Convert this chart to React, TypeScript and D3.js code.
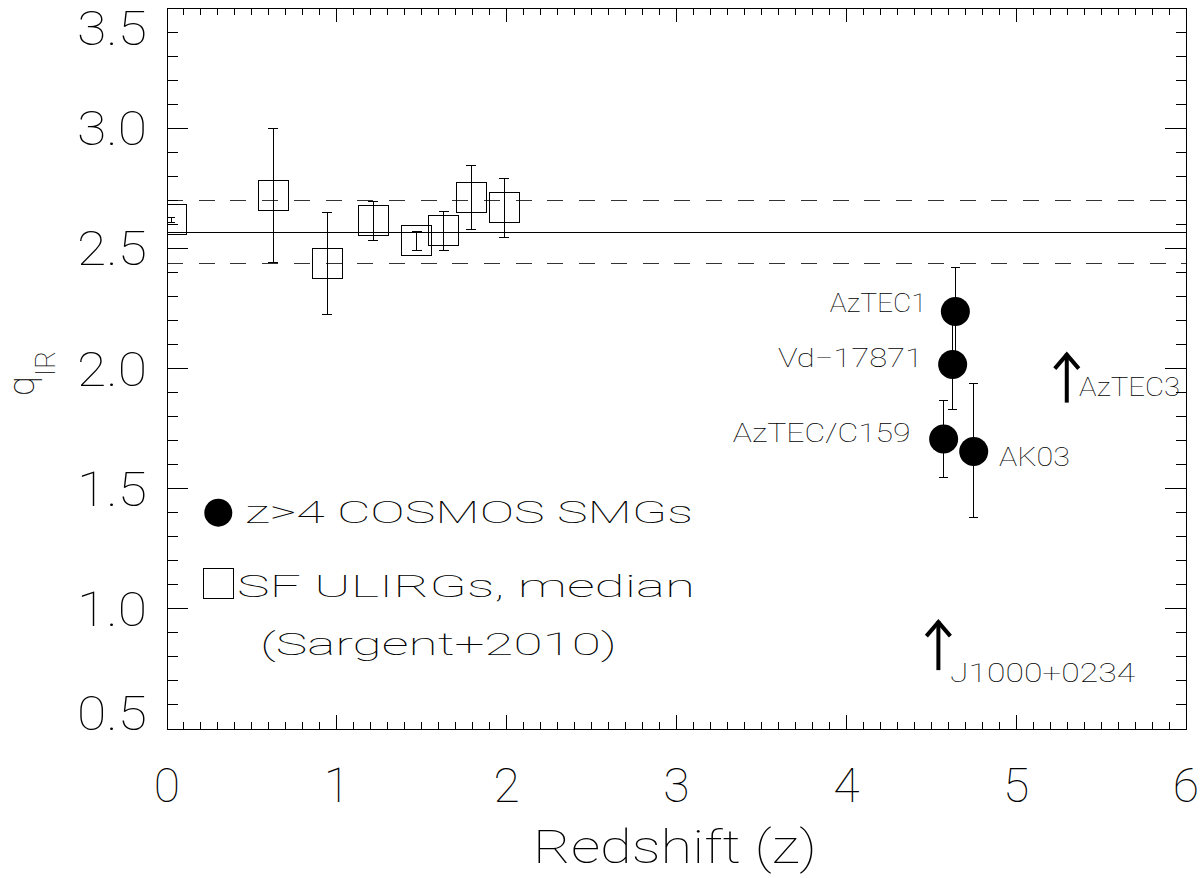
import React from "react";
import * as d3 from "d3";

// ---- data ----
const sfZ = [0.025, 0.626, 0.944, 1.215, 1.47, 1.631, 1.79, 1.986];
const sfQ = [2.62, 2.72, 2.436, 2.615, 2.532, 2.574, 2.712, 2.67];
const sfQLo = [2.608, 2.439, 2.224, 2.532, 2.493, 2.493, 2.58, 2.547];
const sfQHi = [2.629, 3.0, 2.649, 2.696, 2.569, 2.653, 2.845, 2.789];

const smgNames = ["AzTEC1", "Vd\u221217871", "AzTEC/C159", "AK03"];
const smgZ = [4.642, 4.626, 4.573, 4.75];
const smgQ = [2.2375, 2.017, 1.707, 1.655];
const smgQLo = [2.057, 1.828, 1.546, 1.378];
const smgQHi = [2.42, 2.206, 1.865, 1.936];

const limNames = ["AzTEC3", "J1000+0234"];
const limZ = [5.298, 4.542];
const limQ = [1.858, 0.745];

const qMean = 2.567;
const qUpper = 2.697;
const qLower = 2.437;

const xTickLabels = ["0", "1", "2", "3", "4", "5", "6"];
const yTickLabels = ["0.5", "1.0", "1.5", "2.0", "2.5", "3.0", "3.5"];

const legendItems = ["z>4 COSMOS SMGs", "SF ULIRGs, median", "(Sargent+2010)"];

// ---- layout (styling only) ----
const W = 1200, H = 878;
const L = 167, R = 1186, T = 8, B = 729;
const FONT = "Roboto, 'DejaVu Sans', sans-serif";
const FW = 100;
const LA = "spacingAndGlyphs";

// label placement relative to points (px): [dx, dy, anchor, textLength]
const smgLabelPos: [number, number, string, number][] = [
  [-28.6, 0.7, "end", 97],
  [-29.7, 2.7, "end", 145],
  [-33, 3.4, "end", 178],
  [25.3, 14.3, "start", 71],
];
const limLabelPos: [number, number, number][] = [
  [12.3, -7, 101],
  [11.7, 11.7, 185],
];

export default function App() {
  const x = d3.scaleLinear().domain([0, 6]).range([L, R]);
  const y = d3.scaleLinear().domain([0.5, 3.5]).range([B, T]);

  const xMinor = d3.range(0, 60.5, 1).map((v) => v / 10);
  const yMinor = d3.range(5, 35.5, 1).map((v) => v / 10);
  const isMajX = (v: number) => Math.abs(v - Math.round(v)) < 1e-6;
  const isMajY = (v: number) => Math.abs(v * 2 - Math.round(v * 2)) < 1e-6;

  const xTicks = xTickLabels.map((t) => +t);
  const yTicks = yTickLabels.map((t) => +t);

  const ln = (k: string, x1: number, y1: number, x2: number, y2: number, extra: any = {}) => (
    <line key={k} x1={x1} y1={y1} x2={x2} y2={y2} stroke="#000" strokeWidth={1} shapeRendering="crispEdges" {...extra} />
  );

  const errBar = (k: string, cx: number, lo: number, hi: number, cap: number) => (
    <g key={k}>
      {ln(k + "v", cx, y(lo), cx, y(hi))}
      {ln(k + "t", cx - cap, y(hi), cx + cap, y(hi))}
      {ln(k + "b", cx - cap, y(lo), cx + cap, y(lo))}
    </g>
  );

  const arrow = (k: string, ax: number, ay: number) => (
    <g key={k} stroke="#000" strokeWidth={4} fill="none">
      <line x1={ax} y1={ay} x2={ax} y2={ay - 49} />
      <polyline points={`${ax - 12},${ay - 34} ${ax},${ay - 48} ${ax + 12},${ay - 34}`} strokeLinejoin="miter" />
    </g>
  );

  return (
    <svg width={W} height={H} style={{ position: "absolute", left: 0, top: 0, background: "#fff" }}
      fontFamily={FONT} fontWeight={FW}>
      <defs>
        <clipPath id="plotclip">
          <rect x={L} y={T} width={R - L} height={B - T} />
        </clipPath>
      </defs>
      <rect x={0} y={0} width={W} height={H} fill="#fff" />

      {/* reference lines */}
      <g clipPath="url(#plotclip)">
        {ln("mean", L, y(qMean), R, y(qMean))}
        {ln("up", L, y(qUpper), R, y(qUpper), { strokeDasharray: "16 15.7", stroke: "#333" })}
        {ln("lo", L, y(qLower), R, y(qLower), { strokeDasharray: "16 15.7", stroke: "#333" })}
      </g>

      {/* SF ULIRG medians */}
      <g clipPath="url(#plotclip)">
        {sfZ.map((z, i) => (
          <g key={"sf" + i}>
            <rect x={x(z) - 15} y={y(sfQ[i]) - 15} width={30} height={30} fill="none" stroke="#000" strokeWidth={1} shapeRendering="crispEdges" />
            {errBar("sfe" + i, x(z), sfQLo[i], sfQHi[i], i === 0 ? 4 : 5)}
          </g>
        ))}
      </g>

      {/* SMGs */}
      {smgZ.map((z, i) => errBar("sme" + i, x(z), smgQLo[i], smgQHi[i], 4.5))}
      {smgZ.map((z, i) => (
        <circle key={"smc" + i} cx={x(z)} cy={y(smgQ[i])} r={14.5} fill="#000" />
      ))}
      {smgNames.map((n, i) => {
        const [dx, dy, anchor, tl] = smgLabelPos[i];
        return (
          <text key={"sml" + i} x={x(smgZ[i]) + dx} y={y(smgQ[i]) + dy} fontSize={26}
            textAnchor={anchor} textLength={tl} lengthAdjust={LA}>{n}</text>
        );
      })}

      {/* lower limits */}
      {limZ.map((z, i) => arrow("lim" + i, x(z), y(limQ[i])))}
      {limNames.map((n, i) => {
        const [dx, dy, tl] = limLabelPos[i];
        return (
          <text key={"liml" + i} x={x(limZ[i]) + dx} y={y(limQ[i]) + dy} fontSize={26}
            textLength={tl} lengthAdjust={LA}>{n}</text>
        );
      })}

      {/* legend */}
      <circle cx={218.3} cy={512.7} r={14} fill="#000" />
      <text x={245} y={523.3} fontSize={32} textLength={448} lengthAdjust={LA}>{legendItems[0]}</text>
      <rect x={203.3} y={568.3} width={30} height={30} fill="none" stroke="#000" strokeWidth={1} shapeRendering="crispEdges" />
      <text x={237} y={596.7} fontSize={32} textLength={458} lengthAdjust={LA}>{legendItems[1]}</text>
      <text x={260} y={655} fontSize={32} textLength={357} lengthAdjust={LA}>{legendItems[2]}</text>

      {/* frame */}
      <rect x={L} y={T} width={R - L} height={B - T} fill="none" stroke="#000" strokeWidth={1} shapeRendering="crispEdges" />

      {/* x ticks */}
      {xMinor.map((v, i) => {
        const len = isMajX(v) ? 14 : 7;
        return (
          <g key={"xt" + i}>
            {ln("b", x(v), B, x(v), B - len)}
            {ln("t", x(v), T, x(v), T + len)}
          </g>
        );
      })}
      {/* y ticks */}
      {yMinor.map((v, i) => {
        const len = isMajY(v) ? 21 : 10.5;
        return (
          <g key={"yt" + i}>
            {ln("l", L, y(v), L + len, y(v))}
            {ln("r", R, y(v), R - len, y(v))}
          </g>
        );
      })}

      {/* x tick labels */}
      {xTicks.map((v, i) => (
        <text key={"xl" + i} x={x(v)} y={802} fontSize={48} textAnchor="middle">{xTickLabels[i]}</text>
      ))}
      {/* y tick labels (end labels kept inside frame) */}
      {yTicks.map((v, i) => {
        let cy = y(v);
        if (i === 0) cy = Math.min(cy, 713);
        if (i === yTicks.length - 1) cy = Math.max(cy, 28);
        return (
          <text key={"yl" + i} x={147} y={cy + 17} fontSize={48} textAnchor="end" textLength={70} lengthAdjust={LA}>{yTickLabels[i]}</text>
        );
      })}

      {/* axis titles */}
      <text x={533} y={863.3} fontSize={46} textLength={284} lengthAdjust={LA}>Redshift (z)</text>
      <text transform="translate(34,396) rotate(-90)" fontSize={36}>
        q<tspan fontSize={28} dy={21}>IR</tspan>
      </text>
    </svg>
  );
}
